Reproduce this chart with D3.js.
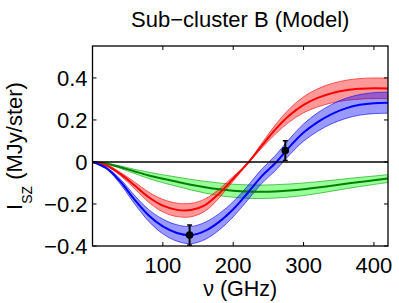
<!DOCTYPE html>
<html>
<head>
<meta charset="utf-8">
<script src="https://cdn.jsdelivr.net/npm/d3@7"></script>
<style>
  html, body { margin: 0; padding: 0; background: #fff; }
  svg { display: block; }
  text { font-family: "Liberation Sans", Arial, Helvetica, sans-serif; fill: #000; }
</style>
</head>
<body>
<svg id="chart" width="399" height="303"></svg>
<script>
// ---- data ----
const freq   = [0, 20, 40, 60, 80, 100, 120, 140, 160, 180, 200, 220, 240, 260, 280, 300, 320, 340, 360, 380, 400, 420];
// thermal SZ (red)
const tszMid = [0, -0.017, -0.058, -0.112, -0.168, -0.208, -0.228, -0.229, -0.205, -0.150, -0.080, -0.008, 0.075, 0.155, 0.222, 0.272, 0.305, 0.327, 0.341, 0.348, 0.351, 0.350];
const tszErr = [0, 0.003, 0.008, 0.016, 0.024, 0.030, 0.032, 0.032, 0.029, 0.021, 0.011, 0.002, 0.011, 0.022, 0.031, 0.038, 0.043, 0.046, 0.048, 0.049, 0.049, 0.049];
// kinetic SZ (green)
const kszMid = [0, -0.008, -0.025, -0.045, -0.064, -0.080, -0.094, -0.108, -0.120, -0.130, -0.137, -0.141, -0.142, -0.140, -0.136, -0.130, -0.122, -0.113, -0.104, -0.095, -0.087, -0.079];
const kszErr = [0, 0.002, 0.006, 0.010, 0.015, 0.019, 0.022, 0.025, 0.028, 0.030, 0.031, 0.032, 0.032, 0.032, 0.031, 0.030, 0.028, 0.026, 0.024, 0.022, 0.020, 0.019];
// total SZ (blue)
const totMid = [0, -0.030, -0.095, -0.180, -0.255, -0.307, -0.338, -0.348, -0.328, -0.285, -0.225, -0.150, -0.070, -0.005, 0.072, 0.140, 0.190, 0.228, 0.255, 0.272, 0.280, 0.282];
const totErr = [0, 0.004, 0.012, 0.020, 0.028, 0.035, 0.039, 0.041, 0.041, 0.039, 0.036, 0.034, 0.034, 0.036, 0.038, 0.041, 0.044, 0.046, 0.048, 0.049, 0.050, 0.050];
// measurements
const obsFreq = [138, 274];
const obsVal  = [-0.348, 0.054];
const obsErr  = [0.048, 0.047];
// ticks
const xTicks = [100, 200, 300, 400];
const yTicks = [-0.4, -0.2, 0, 0.2, 0.4];

// ---- layout ----
const svg = d3.select("#chart");
const L = 92.5, R = 388, T = 46, B = 246;
const x = d3.scaleLinear().domain([0, 420]).range([L, R]);
const y = d3.scaleLinear().domain([-0.4, 0.552]).range([B, T]);

const series = [
  { mid: kszMid, err: kszErr, fill: "#00ff00", line: "#008000", edge: "#00a000" },
  { mid: tszMid, err: tszErr, fill: "#ff0000", line: "#ff0000", edge: "#ff0000" },
  { mid: totMid, err: totErr, fill: "#0000ff", line: "#0000ff", edge: "#0000ff" }
];

const curve = d3.curveCatmullRom.alpha(0.5);
const g = svg.append("g");

series.forEach(s => {
  const pts = freq.map((f, i) => ({ f, m: s.mid[i], e: s.err[i] }));
  const area = d3.area().curve(curve)
    .x(d => x(d.f)).y0(d => y(d.m - d.e)).y1(d => y(d.m + d.e));
  g.append("path").datum(pts).attr("d", area)
    .attr("fill", s.fill).attr("fill-opacity", 0.4).attr("stroke", "none");
  const lo = d3.line().curve(curve).x(d => x(d.f)).y(d => y(d.m - d.e));
  const hi = d3.line().curve(curve).x(d => x(d.f)).y(d => y(d.m + d.e));
  [lo, hi].forEach(fn => g.append("path").datum(pts).attr("d", fn)
    .attr("fill", "none").attr("stroke", s.edge).attr("stroke-width", 0.6));
});
series.forEach(s => {
  const pts = freq.map((f, i) => ({ f, m: s.mid[i] }));
  const ln = d3.line().curve(curve).x(d => x(d.f)).y(d => y(d.m));
  g.append("path").datum(pts).attr("d", ln)
    .attr("fill", "none").attr("stroke", s.line).attr("stroke-width", 2);
});

// zero line
g.append("line").attr("x1", x(0)).attr("x2", x(420)).attr("y1", y(0)).attr("y2", y(0))
  .attr("stroke", "#000").attr("stroke-width", 1.5);

// measurements
obsFreq.forEach((f, i) => {
  const cx = x(f), v = obsVal[i], e = obsErr[i];
  g.append("line").attr("x1", cx).attr("x2", cx).attr("y1", y(v - e)).attr("y2", y(v + e))
    .attr("stroke", "#000").attr("stroke-width", 2);
  [v - e, v + e].forEach(t => g.append("line")
    .attr("x1", cx - 2.5).attr("x2", cx + 2.5).attr("y1", y(t)).attr("y2", y(t))
    .attr("stroke", "#000").attr("stroke-width", 1.5));
  g.append("circle").attr("cx", cx).attr("cy", y(v)).attr("r", 3.8).attr("fill", "#000");
});

// axes box and inward ticks
const ax = svg.append("g");
ax.append("rect").attr("x", L).attr("y", T).attr("width", R - L).attr("height", B - T)
  .attr("fill", "none").attr("stroke", "#000").attr("stroke-width", 1.3);
const tl = 4;
xTicks.forEach(t => {
  ax.append("line").attr("x1", x(t)).attr("x2", x(t)).attr("y1", B).attr("y2", B - tl).attr("stroke", "#000");
  ax.append("line").attr("x1", x(t)).attr("x2", x(t)).attr("y1", T).attr("y2", T + tl).attr("stroke", "#000");
  ax.append("text").attr("x", x(t)).attr("y", 272.5).attr("text-anchor", "middle")
    .attr("font-size", 22).text(d3.format("d")(t));
});
yTicks.forEach(t => {
  ax.append("line").attr("x1", L).attr("x2", L + tl).attr("y1", y(t)).attr("y2", y(t)).attr("stroke", "#000");
  ax.append("line").attr("x1", R).attr("x2", R - tl).attr("y1", y(t)).attr("y2", y(t)).attr("stroke", "#000");
  ax.append("text").attr("x", 87.5).attr("y", y(t) + 8).attr("text-anchor", "end")
    .attr("font-size", 22).text(t === 0 ? "0" : d3.format(".1f")(t).replace("-", "\u2212"));
});

// title & labels
svg.append("text").attr("x", (L + R) / 2).attr("y", 27).attr("text-anchor", "middle")
  .attr("font-size", 22).text("Sub\u2212cluster B (Model)");
svg.append("text").attr("x", (L + R) / 2).attr("y", 295.5).attr("text-anchor", "middle")
  .attr("font-size", 21.5).text("\u03bd (GHz)");
const yl = svg.append("text").attr("transform", "translate(22,146) rotate(-90)")
  .attr("text-anchor", "middle").attr("font-size", 22);
yl.append("tspan").text("I");
yl.append("tspan").attr("font-size", 14).attr("dy", 10).text("SZ");
yl.append("tspan").attr("dy", -10).text(" (MJy/ster)");
</script>
</body>
</html>
